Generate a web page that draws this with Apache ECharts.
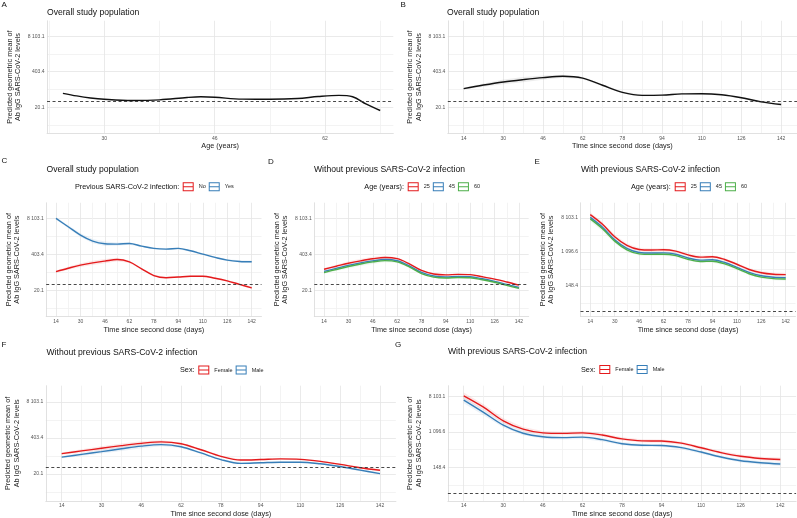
<!DOCTYPE html>
<html><head><meta charset="utf-8">
<script src="https://cdn.jsdelivr.net/npm/echarts@6/dist/echarts.min.js"></script>
<style>html,body{margin:0;padding:0;background:#fff}#c{width:797px;height:518px}</style>
</head><body><div id="c"></div>
<script>
// ---------- data (natural-log scale of predicted geometric mean) ----------
const days = [14,22,30,38,46,54,62,70,78,86,94,102,110,118,126,134,142];
const ages = [24,26,28,30,34,38,42,44,46,50,54,58,61,64,66,68,70];

const aOverall = [4.17,3.95,3.78,3.67,3.57,3.62,3.82,3.88,3.84,3.68,3.67,3.73,3.90,4.00,3.88,3.25,2.72];

const bOverall = [4.57,4.87,5.13,5.33,5.50,5.61,5.45,4.85,4.25,4.00,4.02,4.12,4.14,4.05,3.80,3.45,3.22];
const bCI      = [0.08,0.14,0.20,0.22,0.18,0.12,0.10,0.08,0.07,0.07,0.07,0.07,0.07,0.07,0.08,0.10,0.10];

const cNo  = [4.55,4.83,5.09,5.28,5.43,5.56,5.36,4.78,4.22,4.04,4.10,4.16,4.16,4.00,3.78,3.48,3.19];
const cYes = [9.00,8.30,7.60,7.10,6.88,6.85,6.90,6.68,6.49,6.43,6.49,6.29,6.01,5.74,5.51,5.40,5.37];
const cCI  = [0.10,0.13,0.16,0.18,0.18,0.14,0.10,0.08,0.07,0.07,0.07,0.07,0.07,0.07,0.08,0.09,0.10];

const d25 = [4.75,5.00,5.25,5.45,5.62,5.73,5.63,5.20,4.65,4.35,4.28,4.32,4.30,4.12,3.92,3.68,3.42];
const d45 = [4.57,4.82,5.07,5.28,5.45,5.56,5.46,5.03,4.48,4.18,4.10,4.14,4.12,3.95,3.74,3.48,3.22];
const d60 = [4.47,4.73,4.98,5.19,5.36,5.47,5.37,4.94,4.39,4.09,4.02,4.06,4.04,3.87,3.66,3.40,3.15];
const dCI = [0.10,0.13,0.16,0.18,0.18,0.14,0.10,0.08,0.07,0.07,0.07,0.07,0.07,0.07,0.08,0.09,0.10];

const e25 = [9.20,8.63,7.90,7.39,7.15,7.12,7.13,7.05,6.83,6.70,6.72,6.56,6.28,5.97,5.78,5.69,5.67];
const e45 = [9.04,8.46,7.72,7.21,6.97,6.94,6.95,6.87,6.65,6.52,6.54,6.38,6.10,5.80,5.60,5.51,5.49];
const e60 = [8.95,8.37,7.64,7.13,6.89,6.86,6.87,6.79,6.57,6.44,6.46,6.30,6.02,5.72,5.52,5.43,5.41];
const eCI = [0.15,0.14,0.12,0.11,0.10,0.10,0.10,0.09,0.09,0.09,0.09,0.09,0.09,0.09,0.10,0.10,0.11];

const fFemale = [4.69,4.92,5.14,5.36,5.55,5.67,5.52,5.02,4.47,4.16,4.20,4.26,4.22,4.05,3.80,3.52,3.31];
const fMale   = [4.40,4.63,4.86,5.10,5.32,5.44,5.27,4.75,4.20,3.88,3.93,3.98,3.98,3.85,3.62,3.32,3.03];
const fCI     = [0.10,0.13,0.16,0.18,0.18,0.14,0.10,0.08,0.07,0.07,0.07,0.07,0.07,0.07,0.08,0.09,0.10];

const gFemale = [9.03,8.39,7.62,7.15,6.94,6.91,6.94,6.82,6.60,6.49,6.48,6.36,6.10,5.83,5.62,5.50,5.44];
const gMale   = [8.79,8.10,7.38,6.92,6.72,6.67,6.70,6.56,6.33,6.24,6.23,6.11,5.86,5.58,5.37,5.26,5.19];
const gCI     = [0.18,0.16,0.14,0.12,0.11,0.10,0.10,0.10,0.09,0.09,0.09,0.09,0.09,0.09,0.10,0.10,0.11];

const thresholdLn = 3.52;

const timeTicks = [14,30,46,62,78,94,110,126,142];
const ageTicks = [30,46,62];
const yTicksLow = [3,6,9];
const yLabelsLow = ['20.1','403.4','8 103.1'];
const yTicksHigh = [5,7,9];
const yLabelsHigh = ['148.4','1 096.6','8 103.1'];

// ---------- styling ----------
const FONT = '"Liberation Sans", Arial, Helvetica, sans-serif';
const RED = '#E41A1C', BLUE = '#377EB8', GREEN = '#4DAF4A';
const MAJ = '#e4e4e4', MIN = '#f0f0f0', NONE = 'rgba(0,0,0,0)';
const KEY = 'path://M0,0H11V1H0Z M0,8H11V9H0Z M0,0H1V9H0Z M10,0H11V9H10Z M0,4H11V5H0Z';
const YNAME = 'Predicted geometric mean of\nAb IgG SARS-CoV-2 levels';
const XTIME = 'Time since second dose (days)';

function gridColors(min, step, anchor, major) {
  const n = Math.round(major / step), arr = [];
  for (let i = 0; i < n; i++) {
    const v = min + i * step;
    const r = (((v - anchor) % major) + major) % major;
    if (r < 1e-6 || Math.abs(r - major) < 1e-6) arr.push(MAJ);
    else if (Math.abs(r - major / 2) < 1e-6) arr.push(MIN);
    else arr.push(NONE);
  }
  return arr;
}
function fmt(ticks, labels) {
  return v => { for (let i = 0; i < ticks.length; i++) if (Math.abs(v - ticks[i]) < 1e-6) return labels[i]; return ''; };
}

const panels = [
  {left:47.05, width:346.25, top:20.8,  height:112.4, x:[21.7,71.9,0.1],  xt:ageTicks,  xName:'Age (years)', y:[0.8,10.3,0.1],  hi:false},
  {left:447.8, width:349.2,  top:20.8,  height:112.4, x:[7.6,148.4,0.4],  xt:timeTicks, xName:XTIME, y:[0.8,10.3,0.1],  hi:false},
  {left:46.2,  width:215.3,  top:202.8, height:113.7, x:[7.6,148.4,0.4],  xt:timeTicks, xName:XTIME, y:[0.8,10.3,0.1],  hi:false},
  {left:314.3, width:214.4,  top:202.8, height:113.7, x:[7.6,148.4,0.4],  xt:timeTicks, xName:XTIME, y:[0.8,10.3,0.1],  hi:false},
  {left:580.5, width:215,    top:202.8, height:113.7, x:[7.6,148.4,0.4],  xt:timeTicks, xName:XTIME, y:[3.2,9.9,0.1],   hi:true},
  {left:45.8,  width:350.1,  top:385.7, height:115.3, x:[7.6,148.4,0.4],  xt:timeTicks, xName:XTIME, y:[0.75,10.35,0.15], hi:false},
  {left:447.9, width:348.2,  top:385.7, height:115.3, x:[7.6,148.4,0.4],  xt:timeTicks, xName:XTIME, y:[3.1,9.6,0.1],   hi:true}
];

const grids = [], xAxes = [], yAxes = [];
panels.forEach((p, i) => {
  grids.push({left:p.left, top:p.top, width:p.width, height:p.height, containLabel:false, outerBoundsMode:'none'});
  xAxes.push({
    type:'value', gridIndex:i, min:p.x[0], max:p.x[1], interval:p.x[2],
    axisLine:{show:true, onZero:false, lineStyle:{color:'#d9d9d9', width:0.8}},
    axisTick:{show:false},
    axisLabel:{formatter:fmt(p.xt, p.xt.map(String)), fontSize:5, color:'#555', margin:2.5, fontFamily:FONT},
    splitLine:{show:true, showMaxLine:false, lineStyle:{color:gridColors(p.x[0], p.x[2], 14, 16), width:0.8}},
    name:p.xName, nameLocation:'middle', nameGap:9.5,
    nameTextStyle:{fontSize:7.3, color:'#222', fontFamily:FONT}
  });
  const yt = p.hi ? yTicksHigh : yTicksLow, yl = p.hi ? yLabelsHigh : yLabelsLow;
  yAxes.push({
    type:'value', gridIndex:i, min:p.y[0], max:p.y[1], interval:p.y[2],
    axisLine:{show:true, onZero:false, lineStyle:{color:'#d9d9d9', width:0.8}},
    axisTick:{show:false},
    axisLabel:{formatter:fmt(yt, yl), fontSize:5, color:'#555', margin:2.5, fontFamily:FONT},
    splitLine:{show:true, showMaxLine:false, lineStyle:{color:gridColors(p.y[0], p.y[2], p.hi ? 1 : 0, p.hi ? 2 : 3), width:0.8}},
    name:YNAME, nameLocation:'middle', nameRotate:90, nameGap:25,
    nameTextStyle:{fontSize:7.3, lineHeight:8.3, color:'#222', fontFamily:FONT, align:'center'}
  });
});

function band(gi, xs, mid, ci, fill) {
  return {
    type:'custom', name:'band' + gi, xAxisIndex:gi, yAxisIndex:gi, z:1, silent:true, clip:true,
    data: xs.map((x, k) => [x, mid[k]]), encode:{x:0, y:1},
    renderItem(params, api) {
      if (params.dataIndex !== 0) return null;
      const up = xs.map((x, k) => api.coord([x, mid[k] + ci[k]]));
      const lo = xs.map((x, k) => api.coord([x, mid[k] - ci[k]])).reverse();
      return {type:'polygon', shape:{points: up.concat(lo)}, style:{fill: fill}};
    }
  };
}
function line(gi, name, xs, ys, color, thr) {
  const s = {
    type:'line', name, xAxisIndex:gi, yAxisIndex:gi, data: xs.map((x, k) => [x, ys[k]]),
    showSymbol:false, symbol:'none', smooth:0.35, z:3, silent:true,
    lineStyle:{color, width:1.4}, itemStyle:{color}
  };
  if (thr) s.markLine = {silent:true, symbol:'none', animation:false, label:{show:false},
    lineStyle:{type:[3,2.5], color:'#333', width:0.9}, data:[{yAxis: thresholdLn}]};
  return s;
}
const rgba = (hex, a) => 'rgba(' + parseInt(hex.slice(1,3),16) + ',' + parseInt(hex.slice(3,5),16) + ',' + parseInt(hex.slice(5,7),16) + ',' + a + ')';

const series = [
  line(0, 'overallA', ages, aOverall, '#111', true),
  band(1, days, bOverall, bCI, 'rgba(0,0,0,0.07)'),
  line(1, 'overallB', days, bOverall, '#111', true),
  band(2, days, cNo, cCI, rgba(RED, 0.1)), band(2, days, cYes, cCI, rgba(BLUE, 0.1)),
  line(2, 'No', days, cNo, RED, true), line(2, 'Yes', days, cYes, BLUE, false),
  band(3, days, d25, dCI, rgba(RED, 0.08)), band(3, days, d45, dCI, rgba(BLUE, 0.08)), band(3, days, d60, dCI, rgba(GREEN, 0.08)),
  line(3, '25', days, d25, RED, true), line(3, '45', days, d45, BLUE, false), line(3, '60', days, d60, GREEN, false),
  band(4, days, e25, eCI, rgba(RED, 0.08)), band(4, days, e45, eCI, rgba(BLUE, 0.08)), band(4, days, e60, eCI, rgba(GREEN, 0.08)),
  line(4, '25', days, e25, RED, true), line(4, '45', days, e45, BLUE, false), line(4, '60', days, e60, GREEN, false),
  band(5, days, fFemale, fCI, rgba(RED, 0.1)), band(5, days, fMale, fCI, rgba(BLUE, 0.1)),
  line(5, 'Female', days, fFemale, RED, true), line(5, 'Male', days, fMale, BLUE, false),
  band(6, days, gFemale, gCI, rgba(RED, 0.1)), band(6, days, gMale, gCI, rgba(BLUE, 0.1)),
  line(6, 'Female', days, gFemale, RED, true), line(6, 'Male', days, gMale, BLUE, false)
];

function legend(left, top, names) {
  return {left, top, orient:'horizontal', itemWidth:11, itemHeight:9, itemGap:3, icon:KEY,
    selectedMode:false, padding:0, data:names,
    textStyle:{fontSize:5.5, color:'#222', fontFamily:FONT}};
}
const legends = [
  legend(182.7, 182.2, ['No','Yes']),
  legend(407.7, 182.2, ['25','45','60']),
  legend(674.7, 182.2, ['25','45','60']),
  legend(198.3, 365.5, ['Female','Male']),
  legend(599.3, 365.0, ['Female','Male'])
];

const texts = [
  ['A', 1.5, 4.5, 8], ['Overall study population', 47, 12.3, 8.6],
  ['B', 400.5, 4.5, 8], ['Overall study population', 447, 12.3, 8.6],
  ['C', 1.5, 161, 8], ['Overall study population', 46.5, 170, 8.6],
  ['D', 268, 162, 8], ['Without previous SARS-CoV-2 infection', 314, 170, 8.6],
  ['E', 534.5, 162, 8], ['With previous SARS-CoV-2 infection', 581, 170, 8.6],
  ['F', 1.5, 344.5, 8], ['Without previous SARS-CoV-2 infection', 46.5, 352.3, 8.6],
  ['G', 395, 344.5, 8], ['With previous SARS-CoV-2 infection', 448, 352, 8.6],
  ['Previous SARS-CoV-2 infection:', 75, 186.7, 7.3],
  ['Age (years):', 364.3, 186.7, 7.3],
  ['Age (years):', 631, 186.7, 7.3],
  ['Sex:', 180, 370, 7.3],
  ['Sex:', 581, 369.5, 7.3]
];
const graphic = texts.map(t => ({
  type:'text', x:t[1], y:t[2], silent:true,
  style:{text:t[0], fontSize:t[3], fontFamily:FONT, fill:'#111', align:'left', verticalAlign:'middle'}
}));

const chart = echarts.init(document.getElementById('c'), null, {renderer:'canvas'});
chart.setOption({
  animation:false, backgroundColor:'#fff',
  grid:grids, xAxis:xAxes, yAxis:yAxes, series, legend:legends, graphic
});
</script></body></html>
